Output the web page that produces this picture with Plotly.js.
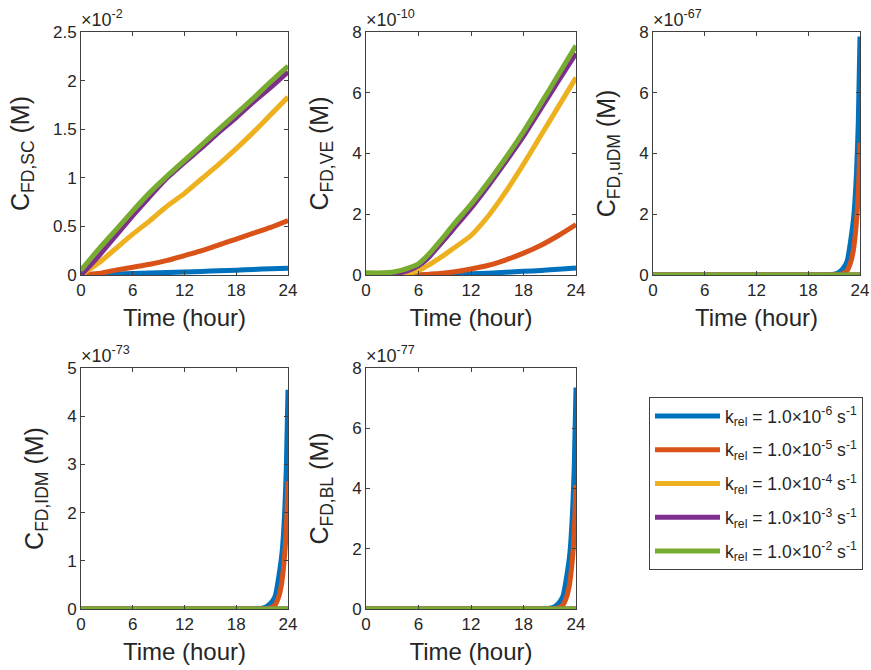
<!DOCTYPE html>
<html>
<head>
<meta charset="utf-8">
<script src="https://cdn.plot.ly/plotly-3.0.1.min.js"></script>
<style>html,body{margin:0;padding:0;background:#fff;}#chart{width:871px;height:670px;}</style>
</head>
<body>
<div id="chart"></div>
<script>
// ---------- data ----------
const seriesNames = [
  'k<sub>rel</sub> = 1.0×10<sup>-6</sup> s<sup>-1</sup>',
  'k<sub>rel</sub> = 1.0×10<sup>-5</sup> s<sup>-1</sup>',
  'k<sub>rel</sub> = 1.0×10<sup>-4</sup> s<sup>-1</sup>',
  'k<sub>rel</sub> = 1.0×10<sup>-3</sup> s<sup>-1</sup>',
  'k<sub>rel</sub> = 1.0×10<sup>-2</sup> s<sup>-1</sup>'
];
const xTicks = [0, 6, 12, 18, 24];

// Panel 1: C_FD,SC (x1e-2 M)
const scHours  = [0, 2, 4, 6, 8, 10, 12, 14, 16, 18, 20, 22, 24];
const scK6  = [0, 0.005, 0.01, 0.015, 0.02, 0.025, 0.03, 0.037, 0.043, 0.05, 0.057, 0.064, 0.07];
const scK5  = [0, 0.015, 0.05, 0.08, 0.11, 0.15, 0.2, 0.25, 0.31, 0.37, 0.43, 0.49, 0.56];
const scK4  = [0, 0.12, 0.27, 0.42, 0.56, 0.71, 0.84, 0.99, 1.14, 1.3, 1.47, 1.65, 1.83];
const scK3  = [0, 0.19, 0.4, 0.61, 0.81, 1.0, 1.16, 1.31, 1.47, 1.62, 1.78, 1.93, 2.09];
const scK2  = [0.05, 0.26, 0.46, 0.66, 0.85, 1.02, 1.18, 1.34, 1.5, 1.66, 1.82, 1.99, 2.15];

// Panel 2: C_FD,VE (x1e-10 M)
const veHours = [0, 2, 3, 4, 5, 6, 7, 8, 9, 10, 12, 14, 16, 18, 20, 22, 24];
const veK6 = [0, 0, 0, 0, 0, 0, 0, 0.01, 0.01, 0.02, 0.04, 0.06, 0.09, 0.12, 0.15, 0.19, 0.23];
const veK5 = [0, 0, 0, 0, 0, 0.01, 0.02, 0.04, 0.07, 0.1, 0.2, 0.32, 0.5, 0.72, 0.98, 1.3, 1.66];
const veK4 = [0, 0, 0, 0.02, 0.06, 0.15, 0.3, 0.48, 0.67, 0.88, 1.3, 1.95, 2.75, 3.65, 4.6, 5.55, 6.5];
const veK3 = [0, 0.01, 0.03, 0.08, 0.17, 0.31, 0.53, 0.85, 1.18, 1.52, 2.2, 2.95, 3.74, 4.57, 5.48, 6.4, 7.3];
const veK2 = [0.07, 0.07, 0.09, 0.15, 0.24, 0.37, 0.63, 0.96, 1.3, 1.66, 2.33, 3.07, 3.87, 4.72, 5.65, 6.6, 7.55];

// steep late-rise curves (panels 3-5)
const lateHoursK6 = [0, 20, 20.5, 21, 21.5, 22, 22.5, 23, 23.3, 23.6, 23.8, 24];
const lateHoursK5 = [0, 21, 21.5, 22, 22.5, 23, 23.3, 23.6, 23.8, 24];
const flatHours = [0, 24];
const flatZero = [0, 0];

// Panel 3: C_FD,uDM (x1e-67 M)
const udmK6 = [0, 0, 0.01, 0.03, 0.08, 0.2, 0.45, 1.3, 2.0, 3.4, 5.0, 7.85];
const udmK5 = [0, 0, 0.01, 0.04, 0.14, 0.5, 0.95, 1.8, 2.7, 4.35];

// Panel 4: C_FD,IDM (x1e-73 M)
const idmK6 = [0, 0, 0.006, 0.017, 0.05, 0.12, 0.26, 0.75, 1.15, 1.95, 2.9, 4.55];
const idmK5 = [0, 0, 0.006, 0.025, 0.085, 0.3, 0.58, 1.1, 1.65, 2.65];

// Panel 5: C_FD,BL (x1e-77 M)
const blK6 = [0, 0, 0.01, 0.03, 0.07, 0.19, 0.42, 1.2, 1.85, 3.2, 4.7, 7.35];
const blK5 = [0, 0, 0.01, 0.04, 0.13, 0.47, 0.9, 1.7, 2.55, 4.12];

const panelTitles = ['C<sub>FD,SC</sub> (M)', 'C<sub>FD,VE</sub> (M)', 'C<sub>FD,uDM</sub> (M)', 'C<sub>FD,IDM</sub> (M)', 'C<sub>FD,BL</sub> (M)'];
const panelExponents = ['-2', '-10', '-67', '-73', '-77'];
const yRanges = [[0, 2.5], [0, 8], [0, 8], [0, 5], [0, 8]];
const yTickVals = [[0, 0.5, 1, 1.5, 2, 2.5], [0, 2, 4, 6, 8], [0, 2, 4, 6, 8], [0, 1, 2, 3, 4, 5], [0, 2, 4, 6, 8]];
const yTickText = [['0', '0.5', '1', '1.5', '2', '2.5'], ['0','2','4','6','8'], ['0','2','4','6','8'], ['0','1','2','3','4','5'], ['0','2','4','6','8']];

// ---------- style ----------
const colors = ['#0072BD', '#D95319', '#EDB120', '#7E2F8E', '#77AC30'];
const W = 871, H = 670;
const boxes = [ // [left, right, top, bottom] in px
  [81, 288, 32, 275],
  [366, 576, 32, 275],
  [653, 860, 32, 275],
  [81, 288, 368, 609],
  [366, 576, 368, 609]
];
const FONT = 'Liberation Sans, Arial, Helvetica, sans-serif';
const TXT = '#262626';
const AX = '#404040';

const panelData = [
  [[scHours, scK6], [scHours, scK5], [scHours, scK4], [scHours, scK3], [scHours, scK2]],
  [[veHours, veK6], [veHours, veK5], [veHours, veK4], [veHours, veK3], [veHours, veK2]],
  [[lateHoursK6, udmK6], [lateHoursK5, udmK5], [flatHours, flatZero], [flatHours, flatZero], [flatHours, flatZero]],
  [[lateHoursK6, idmK6], [lateHoursK5, idmK5], [flatHours, flatZero], [flatHours, flatZero], [flatHours, flatZero]],
  [[lateHoursK6, blK6], [lateHoursK5, blK5], [flatHours, flatZero], [flatHours, flatZero], [flatHours, flatZero]]
];

const traces = [];
const layout = {
  width: W, height: H,
  margin: {l: 0, r: 0, t: 0, b: 0},
  paper_bgcolor: '#fff', plot_bgcolor: '#fff',
  font: {family: FONT, color: TXT, size: 17},
  showlegend: true,
  hovermode: false,
  legend: {
    x: 649 / W, y: 1 - 397 / H, xanchor: 'left', yanchor: 'top',
    bgcolor: '#fff', bordercolor: AX, borderwidth: 1,
    font: {family: FONT, size: 17.5, color: TXT},
    itemwidth: 65,
    traceorder: 'grouped', tracegroupgap: 8
  },
  annotations: []
};

panelData.forEach((series, p) => {
  const sfx = p === 0 ? '' : String(p + 1);
  series.forEach((xy, s) => {
    traces.push({
      x: xy[0], y: xy[1], type: 'scatter', mode: 'lines',
      name: seriesNames[s],
      line: {color: colors[s], width: 5, shape: 'spline', smoothing: 0.6},
      showlegend: p === 0,
      legendgroup: 'g' + s,
      xaxis: 'x' + sfx, yaxis: 'y' + sfx,
      hoverinfo: 'skip'
    });
  });
  const b = boxes[p];
  layout['xaxis' + sfx] = {
    domain: [b[0] / W, b[1] / W], anchor: 'y' + sfx,
    range: [0, 24], tickvals: xTicks, ticktext: xTicks.map(String),
    ticks: 'inside', ticklen: 4, tickcolor: AX, showline: true, linecolor: AX, linewidth: 1,
    mirror: 'ticks', showgrid: false, zeroline: false, fixedrange: true,
    ticklabeloverflow: 'allow',
    tickfont: {family: FONT, size: 17, color: TXT},
    title: {text: 'Time (hour)', font: {family: FONT, size: 24, color: TXT}, standoff: 9}
  };
  layout['yaxis' + sfx] = {
    domain: [1 - b[3] / H, 1 - b[2] / H], anchor: 'x' + sfx,
    range: yRanges[p], tickvals: yTickVals[p], ticktext: yTickText[p],
    ticks: 'inside', ticklen: 4, tickcolor: AX, showline: true, linecolor: AX, linewidth: 1,
    mirror: 'ticks', showgrid: false, zeroline: false, fixedrange: true,
    ticklabeloverflow: 'allow',
    tickfont: {family: FONT, size: 17, color: TXT},
    title: {text: panelTitles[p], font: {family: FONT, size: 25, color: TXT}, standoff: 16}
  };
  layout.annotations.push({
    text: '×10<sup>' + panelExponents[p] + '</sup>',
    xref: 'x' + sfx + ' domain', yref: 'y' + sfx + ' domain',
    x: 0, y: 1, xanchor: 'left', yanchor: 'bottom', yshift: 0, xshift: -2,
    showarrow: false, font: {family: FONT, size: 18, color: TXT}
  });
});

Plotly.newPlot('chart', traces, layout, {displayModeBar: false, responsive: false});
</script>
</body>
</html>
